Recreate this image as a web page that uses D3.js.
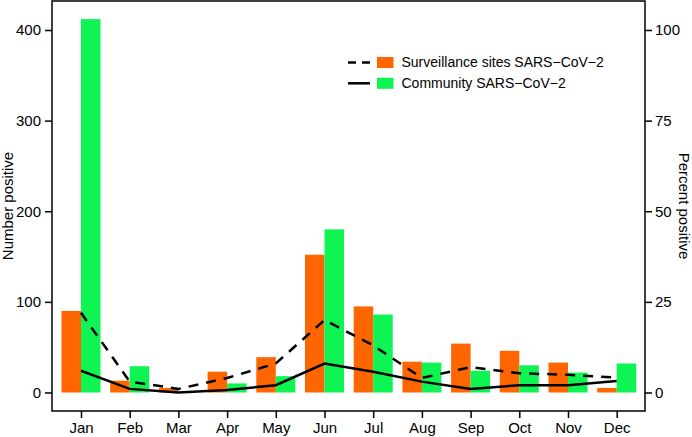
<!DOCTYPE html>
<html>
<head>
<meta charset="utf-8">
<script src="https://cdn.jsdelivr.net/npm/d3@7"></script>
<style>
  body { margin: 0; background: #fff; }
  text { font-family: "Liberation Sans", Arial, Helvetica, sans-serif; fill: #000; }
</style>
</head>
<body>
<svg id="chart" width="692" height="437"></svg>
<script>
// Monthly data
const months = ["Jan", "Feb", "Mar", "Apr", "May", "Jun", "Jul", "Aug", "Sep", "Oct", "Nov", "Dec"];
const surveillanceCount = [90, 13, 5, 23, 39, 152, 95, 34, 54, 46, 33, 5];
const communityCount = [412, 29, 0, 10, 18, 180, 86, 33, 24, 30, 22, 32];
const surveillancePct = [22, 3, 1, 4, 8, 20, 13, 4, 7, 5.3, 4.9, 4.1];
const communityPct = [6, 1, 0, 0.7, 2, 8, 5.7, 3, 1, 2, 2, 3.2];
const leftTicks = [0, 100, 200, 300, 400];
const rightTicks = [0, 25, 50, 75, 100];

const orange = "#ff6600", green = "#0ef553";

const box = { left: 52, right: 645, top: 1, bottom: 411 };
const svg = d3.select("#chart");

// scales
const x = d3.scalePoint().domain(months).range([81, 616.7]);
const barW = 19.5;
const y = d3.scaleLinear().domain([0, 400]).range([392.5, 30]);
const yPct = d3.scaleLinear().domain([0, 100]).range([392.5, 30]);

// bars
svg.append("g").selectAll("rect")
    .data(months)
    .enter().append("rect")
    .attr("x", d => x(d) - barW)
    .attr("y", (d, i) => y(surveillanceCount[i]))
    .attr("width", barW)
    .attr("height", (d, i) => y(0) - y(surveillanceCount[i]))
    .attr("fill", orange);

svg.append("g").selectAll("rect")
    .data(months)
    .enter().append("rect")
    .attr("x", d => x(d))
    .attr("y", (d, i) => y(communityCount[i]))
    .attr("width", barW)
    .attr("height", (d, i) => y(0) - y(communityCount[i]))
    .attr("fill", green);

// percent lines
const line = d3.line()
    .x((d, i) => x(months[i]))
    .y(d => yPct(d));

svg.append("path")
    .datum(surveillancePct)
    .attr("fill", "none")
    .attr("stroke", "#000")
    .attr("stroke-width", 2.5)
    .attr("stroke-dasharray", "10,8")
    .attr("d", line);

svg.append("path")
    .datum(communityPct)
    .attr("fill", "none")
    .attr("stroke", "#000")
    .attr("stroke-width", 2.5)
    .attr("d", line);

// frame
svg.append("rect")
    .attr("x", box.left)
    .attr("y", box.top)
    .attr("width", box.right - box.left)
    .attr("height", box.bottom - box.top)
    .attr("fill", "none")
    .attr("stroke", "#000")
    .attr("stroke-width", 1.5);

// left axis
const leftAxis = svg.append("g")
    .attr("transform", `translate(${box.left},0)`)
    .call(d3.axisLeft(y).tickValues(leftTicks).tickSize(7).tickPadding(4));
leftAxis.select(".domain").remove();

// right axis
const rightAxis = svg.append("g")
    .attr("transform", `translate(${box.right},0)`)
    .call(d3.axisRight(yPct).tickValues(rightTicks).tickSize(7).tickPadding(3));
rightAxis.select(".domain").remove();

// bottom axis
const bottomAxis = svg.append("g")
    .attr("transform", `translate(0,${box.bottom})`)
    .call(d3.axisBottom(x).tickSize(7).tickPadding(4));
bottomAxis.select(".domain").remove();

svg.selectAll(".tick line").attr("stroke", "#000").attr("stroke-width", 1.5);
svg.selectAll(".tick text").style("font-size", "15px").attr("fill", "#000");

// axis titles
svg.append("text")
    .attr("transform", "translate(13,206) rotate(-90)")
    .attr("text-anchor", "middle")
    .style("font-size", "15px")
    .text("Number positive");

svg.append("text")
    .attr("transform", "translate(679,206) rotate(90)")
    .attr("text-anchor", "middle")
    .style("font-size", "15px")
    .text("Percent positive");

// legend
const legendItems = [
    { label: "Surveillance sites SARS\u2212CoV\u22122", color: orange, dash: "8,6" },
    { label: "Community SARS\u2212CoV\u22122", color: green, dash: null }
];
const legend = svg.append("g");
legendItems.forEach((d, i) => {
    const cy = 62.5 + i * 20.8;
    legend.append("line")
        .attr("x1", 348).attr("x2", 370)
        .attr("y1", cy).attr("y2", cy)
        .attr("stroke", "#000")
        .attr("stroke-width", 2.5)
        .attr("stroke-dasharray", d.dash);
    legend.append("rect")
        .attr("x", 377).attr("y", cy - 5.5)
        .attr("width", 16.5).attr("height", 11)
        .attr("fill", d.color);
    legend.append("text")
        .attr("x", 401.5).attr("y", cy)
        .attr("dy", "0.35em")
        .style("font-size", "14px")
        .text(d.label);
});
</script>
</body>
</html>
